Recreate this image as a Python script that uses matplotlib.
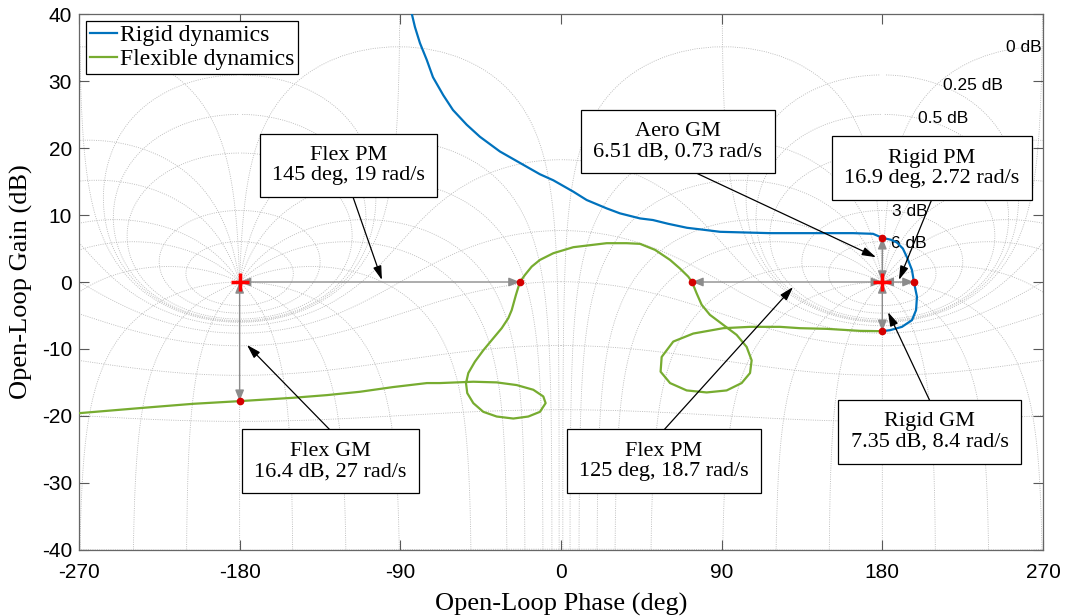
import numpy as np
import matplotlib
matplotlib.use('Agg')
import matplotlib.pyplot as plt

plt.rcParams['axes.unicode_minus'] = False

# ---------------- data ----------------
rigid_phase = [-83.5, -81.8, -79.0, -75.2, -71.7, -65.9, -60.5, -52.8, -45.4, -34.2, -23.0,
               -11.8, -4.3, 6.9, 14.4, 25.6, 33.0, 44.3, 51.5, 60.0, 70.6, 80.0, 89.1,
               103.0, 117.1, 145.1, 163.6, 174.8, 180.0, 185.0, 188.2, 191.5, 193.8,
               196.6, 197.7, 199.4, 198.9, 196.6, 191.0, 184.3, 180.0]
rigid_gain = [40.0, 38.1, 35.7, 33.2, 30.6, 27.9, 25.7, 23.5, 21.7, 19.5, 17.8,
              16.1, 15.2, 13.5, 12.25, 11.0, 10.26, 9.5, 9.26, 8.7, 8.1, 7.8, 7.5,
              7.4, 7.3, 7.3, 7.3, 7.2, 6.6, 6.3, 5.9, 5.0, 3.7,
              1.8, 0.0, -2.2, -4.2, -5.7, -6.7, -7.2, -7.35]

flex_phase = [180.0, 167.5, 149.0, 133.9, 122.7, 105.9, 90.9, 74.1, 62.9, 56.4, 55.8,
              61.1, 70.4, 81.6, 92.8, 101.2, 105.9, 106.8, 104.0, 98.4, 90.9, 83.4,
              78.8, 76.0, 73.4, 71.3, 66.7, 61.1, 52.7, 44.3, 36.8, 25.6, 16.2, 6.9,
              -4.3, -11.8, -16.4, -20.2, -23.0, -25.2, -27.6, -29.5, -33.2, -37.9,
              -43.5, -48.2, -51.9, -53.2, -52.5, -49.1, -43.5, -36.0, -26.7, -18.3,
              -11.8, -8.6, -9.9, -15.5, -24.8, -36.0, -49.1, -67.8, -75.1, -94.1,
              -112.6, -131.1, -150.1, -180.0, -206.1, -234.1, -270.0]
flex_gain = [-7.35, -7.3, -7.0, -6.9, -6.7, -6.7, -6.9, -7.7, -8.9, -11.2, -13.4,
             -15.1, -16.2, -16.5, -16.2, -15.1, -13.6, -11.7, -9.7, -7.9, -6.4, -4.9,
             -3.4, -1.7, 0.0, 0.8, 2.0, 3.3, 4.8, 5.7, 5.8, 5.8, 5.5, 5.2,
             4.3, 3.3, 2.3, 1.05, 0.0, -1.9, -4.2, -5.4, -6.9, -8.4,
             -10.2, -11.9, -13.6, -15.1, -16.6, -18.1, -19.4, -20.1, -20.4, -20.1,
             -19.4, -18.1, -17.1, -16.1, -15.4, -15.0, -14.9, -15.1, -15.1, -15.7,
             -16.4, -16.9, -17.3, -17.8, -18.2, -18.8, -19.6]

# margin points
dot_phase = [180.0, 197.7, 180.0, -23.0, 73.4, -180.0]
dot_gain = [6.6, 0.0, -7.35, 0.0, 0.0, -17.8]
crit_phase = [-180.0, 180.0]
crit_gain = [0.0, 0.0]

# margin arrows: (phase0, gain0, phase1, gain1)
margin_arrows = [(-180.0, 0.0, -23.0, 0.0),
                 (73.4, 0.0, 180.0, 0.0),
                 (180.0, 0.0, 197.7, 0.0),
                 (180.0, 0.0, 180.0, 6.6),
                 (180.0, 0.0, 180.0, -7.35),
                 (-180.0, 0.0, -180.0, -17.8)]

# annotation boxes: text, box centre (phase, gain), arrow start, arrow tip
annot_text = ['Flex PM\n145 deg, 19 rad/s', 'Aero GM\n6.51 dB, 0.73 rad/s',
              'Rigid PM\n16.9 deg, 2.72 rad/s', 'Flex GM\n16.4 dB, 27 rad/s',
              'Flex PM\n125 deg, 18.7 rad/s', 'Rigid GM\n7.35 dB, 8.4 rad/s']
annot_center = [(-119.0, 17.4), (65.5, 21.0), (207.8, 17.0),
                (-129.1, -26.8), (57.7, -26.8), (206.4, -22.4)]
annot_start = [(-116.5, 12.7), (75.6, 16.3), (207.8, 12.4),
               (-129.4, -22.1), (57.7, -22.1), (206.7, -17.8)]
annot_tip = [(-100.3, 0.3), (176.5, 3.7), (189.3, 0.3),
             (-175.9, -9.4), (130.0, -0.75), (183.2, -4.5)]

# Nichols grid definition
grid_gains_db = [6, 3, 1, 0.5, 0.25, 0, -1, -3, -6, -12, -20, -40, -60]
grid_phases = [-1, -5, -10, -20, -30, -50, -90, -120, -150, -180,
               -210, -240, -270, -310, -330, -340, -350, -355, -359]
grid_label_text = ['0 dB', '0.25 dB', '0.5 dB', '3 dB', '6 dB']
grid_label_pos = [(249.3, 35.0), (214.0, 29.4), (200.0, 24.5), (185.4, 10.5), (184.8, 5.8)]

xticks = [-270, -180, -90, 0, 90, 180, 270]
yticks = [-40, -30, -20, -10, 0, 10, 20, 30, 40]

SERIF = ['Liberation Serif', 'DejaVu Serif']
SANS = ['Liberation Sans', 'DejaVu Sans']

fig = plt.figure(figsize=(10.67, 6.16), dpi=100)
ax = fig.add_axes([0.0740, 0.1076, 0.9035, 0.8692])

# ---------------- Nichols grid ----------------
gcol = '#b8b8b8'
gls = (0, (1.2, 1.5))
for g in grid_gains_db:
    m = 10 ** (g / 20.0)
    phi = np.radians(np.linspace(-359.95, -0.05, 4000))
    T = m * np.exp(1j * phi)
    L = T / (1 - T)
    ph = np.degrees(np.unwrap(np.angle(L)))
    ph -= 360 * np.round((ph.mean() + 180) / 360)
    gdb = 20 * np.log10(np.abs(L))
    for off in (-360, 0, 360):
        ax.plot(ph + off, gdb, color=gcol, ls=gls, lw=0.6, zorder=1)
for p in grid_phases:
    m = np.logspace(-4, 4, 6000)
    T = m * np.exp(1j * np.radians(p))
    L = T / (1 - T)
    ph = np.degrees(np.unwrap(np.angle(L)))
    ph -= 360 * np.round((ph.mean() + 180) / 360)
    gdb = 20 * np.log10(np.abs(L))
    for off in (-360, 0, 360):
        ax.plot(ph + off, gdb, color=gcol, ls=gls, lw=0.6, zorder=1)
for t, (px, py) in zip(grid_label_text, grid_label_pos):
    ax.text(px, py, t, fontsize=12.5, family=SANS, ha='left', va='center', zorder=3)

# ---------------- curves ----------------
ax.plot(flex_phase, flex_gain, color='#77AC30', lw=1.6, zorder=4,
        solid_joinstyle='round')
ax.plot(rigid_phase, rigid_gain, color='#0072BD', lw=1.6, zorder=5,
        solid_joinstyle='round')

# margin arrows
for (x0, y0, x1, y1) in margin_arrows:
    ax.annotate('', xy=(x1, y1), xytext=(x0, y0),
                arrowprops=dict(arrowstyle='<|-|>,head_length=0.55,head_width=0.22',
                                color='0.55', lw=1.0, shrinkA=0, shrinkB=0,
                                mutation_scale=12), zorder=6)

ax.plot(crit_phase, crit_gain, '+', color='red', ms=13, mew=2.5, zorder=7)
ax.plot(dot_phase, dot_gain, 'o', color='#d40000', ms=4.5, zorder=8)

# annotation boxes
for t, c, s, tip in zip(annot_text, annot_center, annot_start, annot_tip):
    ax.annotate('', xy=tip, xytext=s,
                arrowprops=dict(arrowstyle='-|>,head_length=0.6,head_width=0.18',
                                color='black', lw=0.9, shrinkA=0, shrinkB=0,
                                mutation_scale=14), zorder=9)
    ax.text(c[0], c[1], t, fontsize=16, family=SERIF, ha='center', va='center',
            linespacing=1.1, zorder=10,
            bbox=dict(boxstyle='square,pad=0.55', fc='white', ec='black', lw=0.9))

# legend
h1, = ax.plot([], [], color='#0072BD', lw=1.6)
h2, = ax.plot([], [], color='#77AC30', lw=1.6)
leg = ax.legend([h1, h2], ['Rigid dynamics', 'Flexible dynamics'], loc='upper left',
                prop={'family': SERIF, 'size': 17}, frameon=True, fancybox=False,
                edgecolor='black', framealpha=1, borderaxespad=0.3, borderpad=0.15,
                labelspacing=0.1, handlelength=1.15, handletextpad=0.15)
leg.get_frame().set_linewidth(0.9)
leg.set_zorder(11)

# axes styling
ax.set_xlim(-270, 270)
ax.set_ylim(-40, 40)
ax.set_xticks(xticks)
ax.set_yticks(yticks)
ax.set_xticklabels([str(v) for v in xticks], family=SANS, fontsize=15)
ax.set_yticklabels([str(v) for v in yticks], family=SANS, fontsize=15)
ax.tick_params(direction='in', top=True, right=True, length=7, width=0.8,
               color='0.35')
ax.tick_params(axis='x', pad=9.5)
ax.tick_params(axis='y', pad=5)
for sp in ax.spines.values():
    sp.set_color('0.4')
    sp.set_linewidth(0.9)
ax.set_xlabel('Open-Loop Phase (deg)', family=SERIF, fontsize=19, labelpad=8)
ax.set_ylabel('Open-Loop Gain (dB)', family=SERIF, fontsize=19, labelpad=6)

fig.savefig('out.png', dpi=100)
